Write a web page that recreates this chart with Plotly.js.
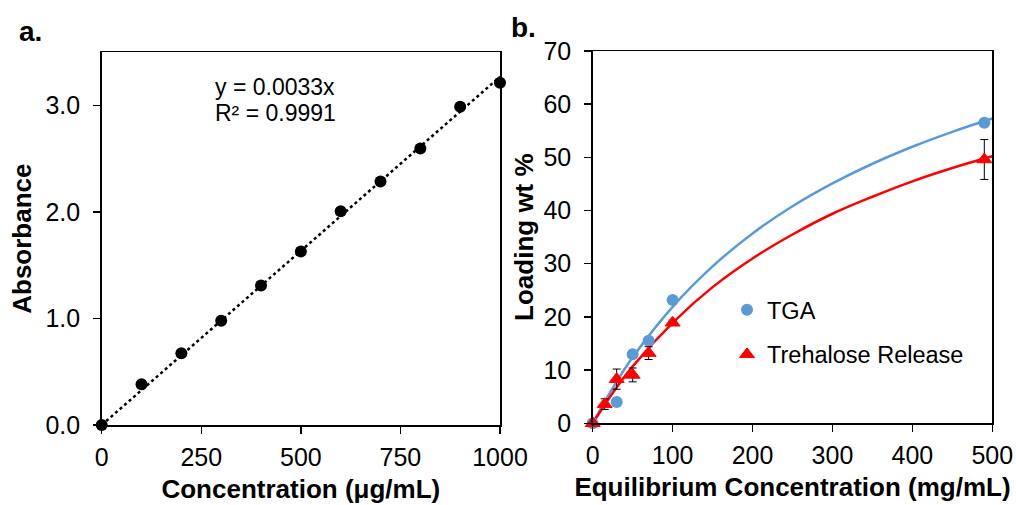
<!DOCTYPE html>
<html>
<head>
<meta charset="utf-8">
<script src="https://cdn.plot.ly/plotly-3.0.1.min.js"></script>
<style>
html,body{margin:0;padding:0;background:#fff;}
#chart{width:1016px;height:505px;}
</style>
</head>
<body>
<div id="chart"></div>
<script>
// ---- Panel a: calibration curve ----
const concA = [0, 100, 200, 300, 400, 500, 600, 700, 800, 900, 1000];
const absorbance = [0, 0.383, 0.674, 0.978, 1.31, 1.63, 2.007, 2.286, 2.596, 2.989, 3.214];
const eqText = ["y = 0.0033x", "R² = 0.9991"];
const xTicksA = [0, 250, 500, 750, 1000];
const yTicksA = [0, 1, 2, 3];
const yTickLabelsA = ["0.0", "1.0", "2.0", "3.0"];

// ---- Panel b: loading ----
const tgaX = [0, 30, 50, 70, 100, 490];
const tgaY = [0, 4.0, 13.0, 15.5, 23.2, 56.5];
const treX = [0, 15, 30, 50, 70, 100, 490];
const treY = [0, 3.6, 8.3, 9.1, 13.2, 18.9, 49.6];
const treErr = [0, 1.0, 1.9, 1.3, 1.2, 0.5, 3.75];
// fitted curves
const fitX = [0, 25, 50, 100, 150, 200, 250, 300, 350, 400, 450, 500];
const tgaFit = [0, 6.6, 12.4, 21.9, 29.5, 35.7, 40.8, 45.1, 48.8, 52.0, 54.8, 57.3];
const treFit = [0, 5.7, 10.7, 18.9, 25.6, 31.0, 35.5, 39.4, 42.6, 45.5, 48.0, 50.2];
const xTicksB = [0, 100, 200, 300, 400, 500];
const yTicksB = [0, 10, 20, 30, 40, 50, 60, 70];

// least-squares slope through origin (trendline)
let sxy = 0, sxx = 0;
for (let i = 0; i < concA.length; i++) { sxy += concA[i] * absorbance[i]; sxx += concA[i] * concA[i]; }
const slope = sxy / sxx;
const trendX = [concA[0], concA[concA.length - 1]];
const trendY = trendX.map(v => v * slope);

const FONT = "Liberation Sans, Arial, sans-serif";
const W = 1016, H = 505;
const px = v => v / W, py = v => 1 - v / H;

const traces = [
  {x: trendX, y: trendY, xaxis: 'x', yaxis: 'y', mode: 'lines', showlegend: false,
   line: {color: '#000', width: 2.5, dash: 'dot'}, hoverinfo: 'skip', cliponaxis: false},
  {x: concA, y: absorbance, xaxis: 'x', yaxis: 'y', mode: 'markers', showlegend: false,
   marker: {color: '#000', size: 12}, cliponaxis: false},
  {x: fitX, y: tgaFit, xaxis: 'x2', yaxis: 'y2', mode: 'lines', showlegend: false,
   line: {color: '#5B9BD5', width: 2.5, shape: 'spline'}, hoverinfo: 'skip', cliponaxis: false},
  {x: fitX, y: treFit, xaxis: 'x2', yaxis: 'y2', mode: 'lines', showlegend: false,
   line: {color: '#FF0000', width: 2.5, shape: 'spline'}, hoverinfo: 'skip', cliponaxis: false},
  {x: tgaX, y: tgaY, xaxis: 'x2', yaxis: 'y2', mode: 'markers', name: 'TGA', legendgroup: 'g1',
   marker: {color: '#5B9BD5', size: 12}, cliponaxis: false},
  {x: treX, y: treY, xaxis: 'x2', yaxis: 'y2', mode: 'markers', name: 'Trehalose Release', legendgroup: 'g2',
   marker: {color: '#FF0000', size: 13, symbol: 'triangle-up', line: {color: '#FF0000', width: 1}},
   error_y: {type: 'data', array: treErr, visible: true, color: '#000', thickness: 1, width: 4},
   cliponaxis: false}
];

const axisCommon = {
  showline: true, linecolor: '#000', linewidth: 1.5, mirror: true,
  ticks: 'outside', ticklen: 7, tickwidth: 1.5, tickcolor: '#000',
  showgrid: false, zeroline: false,
  tickfont: {family: FONT, size: 25, color: '#000'}
};
const titleFont = {family: FONT, size: 26, color: '#000', weight: 'bold'};

const layout = {
  width: W, height: H,
  margin: {l: 0, r: 0, t: 0, b: 0},
  paper_bgcolor: '#fff', plot_bgcolor: '#fff',
  font: {family: FONT, color: '#000'},
  xaxis: Object.assign({}, axisCommon, {
    domain: [px(101.7), px(500)], range: [0, 1000], anchor: 'y',
    tickvals: xTicksA, ticktext: xTicksA.map(String), ticklabelstandoff: 2,
    title: {text: 'Concentration (μg/mL)', font: titleFont, standoff: 10}
  }),
  yaxis: Object.assign({}, axisCommon, {
    domain: [py(425), py(52.3)], range: [0, 3.5], anchor: 'x',
    tickvals: yTicksA, ticktext: yTickLabelsA, ticklabelstandoff: 8,
    title: {text: 'Absorbance', font: titleFont, standoff: 6}
  }),
  xaxis2: Object.assign({}, axisCommon, {
    domain: [px(592.7), px(992.3)], range: [0, 500], anchor: 'y2',
    tickvals: xTicksB, ticktext: xTicksB.map(String), ticklabelstandoff: 2,
    title: {text: 'Equilibrium Concentration (mg/mL)', font: titleFont, standoff: 10}
  }),
  yaxis2: Object.assign({}, axisCommon, {
    domain: [py(423.3), py(51)], range: [0, 70], anchor: 'x2',
    tickvals: yTicksB, ticktext: yTicksB.map(String), ticklabelstandoff: 8,
    title: {text: 'Loading wt %', font: titleFont, standoff: 2}
  }),
  showlegend: true,
  legend: {
    x: px(727), y: py(288), xanchor: 'left', yanchor: 'top',
    bgcolor: 'rgba(0,0,0,0)', borderwidth: 0,
    font: {family: FONT, size: 23.5, color: '#000'},
    traceorder: 'grouped', tracegroupgap: 11, itemwidth: 30
  },
  annotations: [
    {xref: 'paper', yref: 'paper', x: px(213), y: py(87), xanchor: 'left', yanchor: 'middle',
     text: eqText[0], showarrow: false, font: {family: FONT, size: 23, color: '#000'}},
    {xref: 'paper', yref: 'paper', x: px(213), y: py(113), xanchor: 'left', yanchor: 'middle',
     text: eqText[1], showarrow: false, font: {family: FONT, size: 23, color: '#000'}},
    {xref: 'paper', yref: 'paper', x: px(17), y: py(31), xanchor: 'left', yanchor: 'middle',
     text: '<b>a.</b>', showarrow: false, font: {family: FONT, size: 28, color: '#000'}},
    {xref: 'paper', yref: 'paper', x: px(509), y: py(27), xanchor: 'left', yanchor: 'middle',
     text: '<b>b.</b>', showarrow: false, font: {family: FONT, size: 28, color: '#000'}}
  ]
};

Plotly.newPlot('chart', traces, layout, {displayModeBar: false, staticPlot: true});
</script>
</body>
</html>
